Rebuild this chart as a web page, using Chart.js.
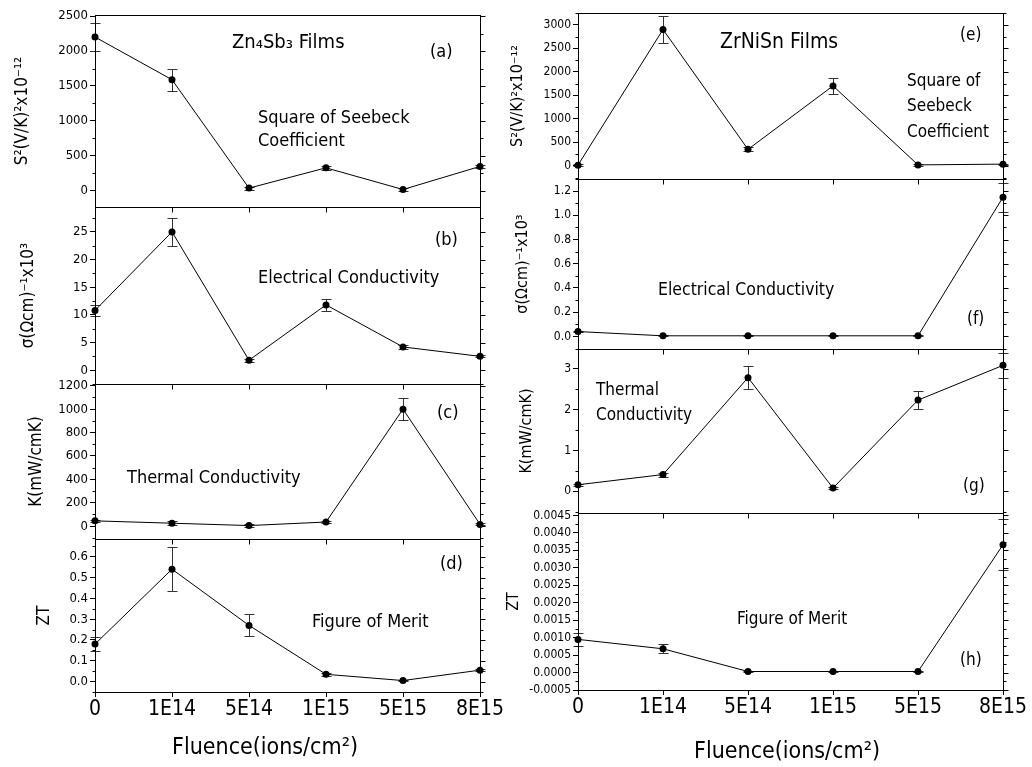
<!DOCTYPE html>
<html>
<head>
<meta charset="utf-8">
<script src="https://cdn.jsdelivr.net/npm/chart.js@4.4.0/dist/chart.umd.min.js"></script>
<style>
  body { margin: 0; background: #fff; width: 1032px; height: 767px; position: relative; overflow: hidden; }
  canvas { position: absolute; }
</style>
</head>
<body>
<script>
const fluence = ['0', '1E14', '5E14', '1E15', '5E15', '8E15'];

// Zn4Sb3 films (left column)
const znSeebeck2 = [2200, 1590, 40, 330, 20, 350];
const znSeebeck2Err = [200, 155, 20, 30, 15, 20];
const znSigma = [10.8, 25.0, 1.8, 11.8, 4.2, 2.5];
const znSigmaErr = [1.0, 2.5, 0.3, 1.1, 0.3, 0.2];
const znKappa = [45, 25, 5, 35, 1000, 15];
const znKappaErr = [10, 15, 10, 10, 95, 8];
const znZT = [0.18, 0.54, 0.27, 0.035, 0.005, 0.055];
const znZTErr = [0.035, 0.105, 0.053, 0.006, 0.004, 0.006];

// ZrNiSn films (right column)
const zrSeebeck2 = [15, 2900, 350, 1700, 20, 36];
const zrSeebeck2Err = [15, 290, 40, 170, 15, 10];
const zrSigma = [0.04, 0.005, 0.005, 0.005, 0.005, 1.15];
const zrSigmaErr = [0.005, 0.005, 0.005, 0.005, 0.005, 0.12];
const zrKappa = [0.16, 0.41, 2.78, 0.08, 2.23, 3.08];
const zrKappaErr = [0.03, 0.05, 0.29, 0.03, 0.22, 0.3];
const zrZT = [0.00095, 0.00068, 0.00003, 0.00003, 0.00003, 0.00366];
const zrZTErr = [0.00018, 0.00013, 0.00002, 0.00002, 0.00002, 0.00073];

const xTitle = 'Fluence(ions/cm²)';

const FONT = "'DejaVu Sans Condensed', 'Liberation Sans Narrow', sans-serif";
Chart.defaults.font.family = FONT;
Chart.defaults.color = '#000';

const cols = [
  { left: 0, width: 505, areaLeft: 95, areaRight: 480, tick: 13, title: 17, xTitleX: 265, xTitleY: 748 },
  { left: 500, width: 532, areaLeft: 578, areaRight: 1003, tick: 12, title: 16, xTitleX: 787, xTitleY: 752 }
];

const panels = [
  { col: 0, top: 15, bottom: 207, values: znSeebeck2, errors: znSeebeck2Err, min: -230, max: 2515, step: 500, dec: 0,
    title: 'S²(V/K)²x10⁻¹²', titleX: 22.5,
    notes: [['Zn₄Sb₃ Films', 232, 43, 20], ['(a)', 430, 52, 18], ['Square of Seebeck', 258, 118, 18], ['Coefficient', 258, 141, 18]] },
  { col: 0, top: 207, bottom: 384, values: znSigma, errors: znSigmaErr, min: -2.5, max: 29.5, step: 5, dec: 0,
    title: 'σ(Ωcm)⁻¹x10³', titleX: 29,
    notes: [['(b)', 435, 240, 18], ['Electrical Conductivity', 258, 278, 18]] },
  { col: 0, top: 384, bottom: 539, values: znKappa, errors: znKappaErr, min: -110, max: 1215, step: 200, dec: 0,
    title: 'K(mW/cmK)', titleX: 37,
    notes: [['(c)', 437, 413, 18], ['Thermal Conductivity', 127, 478, 18]] },
  { col: 0, top: 539, bottom: 692, values: znZT, errors: znZTErr, min: -0.05, max: 0.685, step: 0.1, dec: 1,
    title: 'ZT', titleX: 45, last: true,
    notes: [['(d)', 440, 564, 18], ['Figure of Merit', 312, 622, 18]] },
  { col: 1, top: 13, bottom: 179, values: zrSeebeck2, errors: zrSeebeck2Err, min: -280, max: 3250, step: 500, dec: 0,
    title: 'S²(V/K)²x10⁻¹²', titleX: 518,
    notes: [['ZrNiSn Films', 720, 43, 21], ['(e)', 960, 36, 17], ['Square of', 907, 82, 17], ['Seebeck', 907, 107, 17], ['Coefficient', 907, 133, 17]] },
  { col: 1, top: 179, bottom: 349, values: zrSigma, errors: zrSigmaErr, min: -0.104, max: 1.3, step: 0.2, dec: 1,
    title: 'σ(Ωcm)⁻¹x10³', titleX: 523,
    notes: [['Electrical Conductivity', 658, 290, 17.5], ['(f)', 967, 320, 17]] },
  { col: 1, top: 349, bottom: 513, values: zrKappa, errors: zrKappaErr, min: -0.53, max: 3.48, step: 1, dec: 0,
    title: 'K(mW/cmK)', titleX: 527,
    notes: [['Thermal', 596, 391, 17], ['Conductivity', 596, 416, 17], ['(g)', 963, 487, 17]] },
  { col: 1, top: 513, bottom: 690, values: zrZT, errors: zrZTErr, min: -0.0005, max: 0.00457, step: 0.0005, dec: 4,
    title: 'ZT', titleX: 514, last: true,
    notes: [['Figure of Merit', 737, 620, 17], ['(h)', 960, 661, 17]] }
];

function decorations(p, c, cTop) {
  return {
    id: 'decor',
    beforeDatasetsDraw(chart) {
      // error bars
      const { ctx, scales: { x, y } } = chart;
      ctx.save();
      ctx.strokeStyle = '#333';
      ctx.lineWidth = 1;
      p.values.forEach((v, i) => {
        const e = p.errors[i];
        const px = Math.round(x.getPixelForValue(i)) + 0.5;
        const hi = Math.round(y.getPixelForValue(v + e)) + 0.5;
        const lo = Math.round(y.getPixelForValue(v - e)) + 0.5;
        ctx.beginPath();
        ctx.moveTo(px, hi); ctx.lineTo(px, lo);
        ctx.moveTo(px - 5, hi); ctx.lineTo(px + 5, hi);
        ctx.moveTo(px - 5, lo); ctx.lineTo(px + 5, lo);
        ctx.stroke();
      });
      ctx.restore();
    },
    afterDraw(chart) {
      const { ctx, chartArea: a, scales: { x, y } } = chart;
      ctx.save();
      ctx.strokeStyle = '#000';
      ctx.lineWidth = 1;
      const L = Math.round(a.left) + 0.5, R = Math.round(a.right) + 0.5;
      const T = Math.round(a.top) + 0.5, B = Math.round(a.bottom) + 0.5;
      ctx.strokeRect(L, T, R - L, B - T);
      ctx.beginPath();
      y.ticks.forEach(t => {
        const py = Math.round(y.getPixelForValue(t.value)) + 0.5;
        ctx.moveTo(R, py); ctx.lineTo(R + 5, py);
      });
      const half = p.step / 2;
      for (let k = Math.ceil(p.min / half); k * half <= p.max; k++) {
        if (k % 2 === 0) continue;
        const py = Math.round(y.getPixelForValue(k * half)) + 0.5;
        ctx.moveTo(L - 3, py); ctx.lineTo(L, py);
        ctx.moveTo(R, py); ctx.lineTo(R + 3, py);
      }
      if (!p.last) {
        fluence.forEach((_, i) => {
          const px = Math.round(x.getPixelForValue(i)) + 0.5;
          ctx.moveTo(px, B); ctx.lineTo(px, B + 5);
        });
      }
      ctx.stroke();
      ctx.fillStyle = '#000';
      ctx.textBaseline = 'middle';
      ctx.textAlign = 'left';
      p.notes.forEach(([text, nx, ny, size]) => {
        ctx.font = size + 'px ' + FONT;
        ctx.fillText(text, nx - c.left, ny - cTop);
      });
      if (p.last) {
        ctx.textAlign = 'center';
        ctx.font = '23px ' + FONT;
        ctx.fillText(xTitle, c.xTitleX - c.left, c.xTitleY - cTop);
      }
      ctx.restore();
    }
  };
}

panels.forEach(p => {
  const c = cols[p.col];
  const pad = 12;
  const cTop = p.top - pad;
  const cBottom = p.last ? 767 : p.bottom + pad;
  const canvas = document.createElement('canvas');
  canvas.width = c.width;
  canvas.height = cBottom - cTop;
  canvas.style.left = c.left + 'px';
  canvas.style.top = cTop + 'px';
  document.body.appendChild(canvas);
  const lh = c.title * 1.2;

  new Chart(canvas, {
    type: 'line',
    data: {
      labels: fluence,
      datasets: [{
        data: p.values,
        borderColor: '#000',
        borderWidth: 1,
        pointRadius: 3.5,
        pointBorderWidth: 0,
        pointBackgroundColor: '#000',
        tension: 0,
        clip: 8
      }]
    },
    options: {
      responsive: false,
      animation: false,
      layout: { padding: { left: 0, top: pad, right: c.width - (c.areaRight - c.left), bottom: p.last ? 0 : pad } },
      plugins: { legend: { display: false }, tooltip: { enabled: false } },
      scales: {
        x: {
          display: !!p.last,
          offset: false,
          grid: { drawOnChartArea: false, tickLength: 5, color: '#000' },
          border: { color: '#000' },
          ticks: { font: { size: 21 }, color: '#000', padding: 0, maxRotation: 0, autoSkip: false },
          afterFit: s => { if (p.last) s.height = 767 - p.bottom; }
        },
        y: {
          min: p.min,
          max: p.max,
          bounds: 'data',
          grid: { drawOnChartArea: false, tickLength: 5, color: '#000' },
          border: { color: '#000' },
          ticks: { autoSkip: false, padding: 2, color: '#000', font: { size: c.tick }, callback: v => Number(v).toFixed(p.dec) },
          afterBuildTicks: s => {
            const t = [];
            for (let k = Math.ceil(p.min / p.step - 1e-9); k * p.step <= p.max + 1e-12; k++) {
              t.push({ value: +(k * p.step).toFixed(6) });
            }
            s.ticks = t;
          },
          title: { display: true, text: p.title, color: '#000', font: { size: c.title }, padding: { top: Math.max(0, p.titleX - c.left - lh / 2), bottom: 0 } },
          afterFit: s => { s.width = c.areaLeft - c.left; }
        }
      }
    },
    plugins: [decorations(p, c, cTop)]
  });
});
</script>
</body>
</html>
